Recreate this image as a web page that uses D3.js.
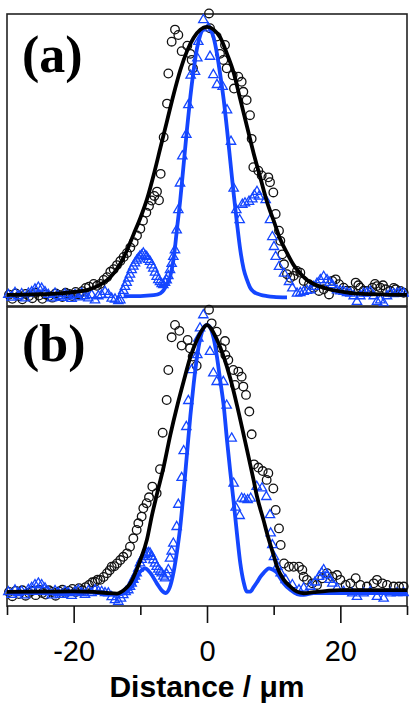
<!DOCTYPE html>
<html>
<head>
<meta charset="utf-8">
<script src="https://cdn.jsdelivr.net/npm/d3@7"></script>
<style>
body { margin: 0; background: #fff; }
</style>
</head>
<body>
<svg id="canvas" width="409" height="712"></svg>
<script>
// Ticks
var majorTicks = [-20, 0, 20];
var tickLabels = ["-20", "0", "20"];
var minorTicks = [-30, -10, 10, 30];
var panelLabels = ["(a)", "(b)"];
var axisTitle = "Distance / \u03bcm";

// Panel (a) fits, [distance, intensity]
var blackFitA = [[-30,0.004],[-26,0.006],[-22,0.01],[-20,0.015],[-18,0.022],[-16,0.042],[-14.5,0.07],[-13,0.12],[-12,0.17],[-11,0.23],[-10,0.29],[-9,0.36],[-8,0.45],[-7,0.55],[-6,0.65],[-5,0.75],[-4,0.84],[-3,0.91],[-2,0.96],[-1,0.99],[0,1.0],[1,0.99],[2,0.96],[3,0.9],[4,0.83],[5,0.73],[6,0.63],[7,0.53],[8,0.44],[9,0.35],[10,0.28],[11,0.21],[12,0.16],[13,0.115],[14,0.084],[15,0.06],[16,0.045],[17,0.035],[18,0.027],[20,0.017],[22,0.01],[26,0.006],[30,0.004]];
var blueFitA = [[-12.5,0.0],[-10,0.0],[-8,0.003],[-7,0.01],[-6.5,0.022],[-6,0.045],[-5.5,0.075],[-5,0.14],[-4.5,0.25],[-4,0.36],[-3.5,0.49],[-3,0.62],[-2.5,0.74],[-2,0.84],[-1.5,0.92],[-1,0.97],[-0.5,0.995],[0,1.0],[0.5,0.99],[1,0.96],[1.5,0.9],[2,0.82],[2.5,0.73],[3,0.62],[3.5,0.5],[4,0.38],[4.5,0.27],[5,0.17],[5.5,0.1],[6,0.06],[6.5,0.03],[7,0.016],[8,0.005],[9,0.0],[10,-0.003],[12,-0.005]];

// Panel (a) measured points
var circA = [[-29.7,0.005],[-29.2,-0.01],[-28.7,0.01],[-28.2,0.0],[-27.7,-0.012],[-27.2,0.008],[-26.7,0.0],[-26.2,-0.008],[-25.7,0.012],[-25.2,0.002],[-24.7,-0.01],[-24.2,0.006],[-23.7,0.0],[-23.2,-0.006],[-22.7,0.01],[-22.2,0.004],[-21.7,-0.004],[-21.2,0.012],[-20.7,0.008],[-20.2,0.0],[-19.7,0.015],[-19.2,0.006],[-18.7,0.018],[-18.2,0.03],[-17.7,0.035],[-17.0,0.045],[-16.5,0.038],[-16.0,0.045],[-15.5,0.06],[-15.0,0.07],[-14.5,0.09],[-14.0,0.1],[-13.5,0.115],[-13.0,0.13],[-12.5,0.145],[-12.0,0.16],[-11.5,0.18],[-11.0,0.2],[-10.5,0.225],[-10.0,0.25],[-9.6,0.28],[-9.1,0.31],[-8.7,0.335],[-8.3,0.355],[-7.9,0.372],[-7.5,0.388],[-7.2,0.356],[-6.95,0.454],[-6.5,0.59],[-6.0,0.715],[-5.8,0.827],[-5.3,0.945],[-4.8,0.99],[-4.3,0.97],[-3.8,0.91],[-2.95,0.93],[-2.5,0.9],[-2.3,0.877],[-2.1,0.846],[0.3,1.05],[0.45,0.995],[1.45,0.964],[1.95,0.9],[2.45,0.877],[2.7,0.933],[2.95,0.846],[3.85,0.82],[4.05,0.771],[4.7,0.815],[5.2,0.796],[5.45,0.759],[5.95,0.728],[6.45,0.672],[6.7,0.584],[6.95,0.479],[7.7,0.466],[8.2,0.448],[9.2,0.441],[9.45,0.423],[9.95,0.385],[10.3,0.305],[10.8,0.243],[11.0,0.205],[11.3,0.155],[11.55,0.118],[12.0,0.081],[12.5,0.068],[13.0,0.075],[13.5,0.093],[14.0,0.087],[14.5,0.056],[15.3,0.044],[16.0,0.031],[16.8,0.019],[17.5,0.025],[18.3,0.006],[18.8,0.056],[19.3,0.062],[19.8,0.044],[20.5,0.031],[21.0,0.02],[21.5,0.019],[22.3,0.05],[22.7,0.04],[23.0,0.031],[23.5,0.02],[24.0,0.019],[24.8,0.031],[25.2,0.045],[25.5,0.037],[26.0,0.031],[26.4,0.04],[26.8,0.025],[27.5,0.019],[28.0,0.03],[28.3,0.025],[29.0,0.019],[29.5,0.012]];
var triA = [[-29.8,0.005],[-29.3,-0.005],[-28.8,0.012],[-28.3,0.0],[-27.8,0.008],[-27.3,-0.008],[-26.8,0.01],[-26.3,0.015],[-25.8,0.025],[-25.3,0.032],[-24.8,0.028],[-24.3,0.015],[-23.8,0.005],[-23.3,-0.008],[-22.8,0.01],[-22.3,0.0],[-21.8,-0.006],[-21.3,0.008],[-20.8,0.0],[-20.3,-0.01],[-19.8,0.005],[-19.3,-0.004],[-18.8,0.01],[-18.3,0.0],[-17.8,-0.008],[-17.3,0.004],[-16.8,-0.015],[-16.3,0.0],[-15.8,0.004],[-15.3,0.016],[-14.8,0.005],[-14.3,-0.009],[-13.8,-0.012],[-13.3,-0.018],[-13.0,-0.015],[-12.8,0.004],[-12.55,0.02],[-12.3,0.035],[-12.05,0.05],[-11.8,0.066],[-11.55,0.08],[-11.3,0.097],[-11.05,0.11],[-10.8,0.122],[-10.55,0.132],[-10.3,0.14],[-10.05,0.148],[-9.8,0.152],[-9.55,0.159],[-9.3,0.15],[-9.05,0.146],[-8.8,0.135],[-8.55,0.128],[-8.3,0.115],[-8.05,0.103],[-7.8,0.088],[-7.55,0.072],[-7.3,0.06],[-7.05,0.053],[-6.8,0.045],[-6.55,0.041],[-6.3,0.05],[-6.05,0.059],[-5.8,0.075],[-5.55,0.097],[-5.3,0.12],[-5.05,0.146],[-4.8,0.171],[-4.55,0.245],[-4.3,0.32],[-4.05,0.419],[-3.7,0.52],[-3.1,0.6],[-2.8,0.71],[-2.45,0.82],[-1.8,0.834],[-1.45,0.884],[-1.3,0.945],[-0.55,1.026],[0.2,0.995],[0.45,0.89],[0.95,0.822],[1.5,0.785],[2.35,0.778],[3.0,0.691],[3.6,0.574],[4.0,0.4],[4.4,0.32],[4.9,0.283],[5.3,0.34],[5.7,0.345],[6.3,0.351],[6.8,0.36],[7.1,0.375],[7.5,0.388],[7.8,0.37],[8.8,0.357],[9.45,0.283],[9.8,0.22],[10.05,0.183],[10.3,0.146],[10.8,0.109],[11.55,0.084],[12.3,0.053],[12.8,0.029],[13.5,0.01],[14.0,0.012],[14.5,0.016],[15.0,0.02],[15.5,0.022],[16.0,0.035],[16.5,0.047],[17.0,0.06],[17.5,0.072],[18.0,0.06],[18.4,0.05],[18.8,0.041],[19.5,0.022],[20.0,0.018],[20.5,0.016],[21.0,0.012],[21.5,0.01],[22.0,0.0],[22.5,-0.021],[23.0,0.0],[23.5,0.01],[24.0,0.012],[24.5,0.016],[25.0,0.0],[25.5,-0.021],[26.0,-0.015],[26.5,-0.027],[27.0,0.0],[27.5,0.01],[28.0,0.008],[28.5,0.01],[29.0,0.012],[29.5,0.01]];

// Panel (b) fits
var blackFitB = [[-30,0.004],[-25,0.005],[-20,0.006],[-17,0.004],[-15,0.0],[-13.5,-0.002],[-12.5,0.01],[-11.5,0.036],[-10.5,0.09],[-10,0.123],[-9,0.2],[-8.3,0.285],[-7.5,0.37],[-6.5,0.471],[-5.5,0.59],[-4.5,0.695],[-3.5,0.79],[-2.5,0.88],[-1.5,0.945],[-0.5,0.99],[0,1.0],[0.5,0.99],[1.5,0.945],[2.5,0.882],[3.5,0.8],[4.5,0.7],[5.5,0.59],[6,0.534],[7,0.42],[7.5,0.36],[8.5,0.27],[9,0.223],[10,0.14],[10.5,0.098],[11.5,0.05],[12.5,0.024],[13.5,0.005],[14.5,-0.001],[16,0.003],[18,0.008],[20,0.011],[25,0.011],[30,0.011]];
var blueFitB = [[-30,0.0],[-20,0.0],[-16,0.003],[-14,-0.006],[-13,-0.005],[-12,0.005],[-11,0.036],[-10,0.08],[-9.3,0.092],[-8.5,0.075],[-7.5,0.035],[-6.8,0.01],[-6.2,0.0],[-5.6,0.02],[-5,0.08],[-4.5,0.155],[-4,0.25],[-3.5,0.38],[-3,0.52],[-2.5,0.66],[-2,0.78],[-1.5,0.88],[-1,0.95],[-0.5,0.99],[0,1.0],[0.5,0.99],[1,0.95],[1.5,0.88],[2,0.79],[2.5,0.7],[3,0.57],[3.5,0.45],[4,0.34],[4.5,0.22],[5,0.11],[5.5,0.04],[6,0.005],[6.5,0.005],[7,0.022],[7.5,0.04],[8,0.06],[8.5,0.075],[9.3,0.092],[10,0.085],[10.5,0.075],[11,0.055],[11.5,0.036],[12.5,0.012],[13.5,-0.004],[14.5,-0.007],[16,0.0],[20,0.0],[30,0.0]];

// Panel (b) measured points
var circB = [[-29.7,0.004],[-29.2,-0.012],[-28.7,0.008],[-28.2,-0.004],[-27.7,0.01],[-27.2,-0.01],[-26.7,0.0],[-26.2,0.008],[-25.7,-0.008],[-25.2,0.012],[-24.7,0.0],[-24.2,-0.006],[-23.7,0.01],[-23.2,0.004],[-22.7,-0.01],[-22.2,0.006],[-21.7,0.012],[-21.2,0.0],[-20.7,0.008],[-20.2,0.015],[-19.7,0.004],[-19.2,0.018],[-18.7,0.01],[-18.2,0.022],[-17.7,0.03],[-17.2,0.04],[-16.8,0.042],[-16.4,0.05],[-16.0,0.049],[-15.5,0.06],[-15.0,0.074],[-14.6,0.085],[-14.3,0.098],[-13.9,0.1],[-13.5,0.11],[-13.0,0.123],[-12.55,0.135],[-12.0,0.148],[-11.55,0.173],[-11.05,0.204],[-10.55,0.235],[-10.3,0.26],[-9.8,0.285],[-9.55,0.316],[-9.05,0.335],[-8.7,0.357],[-8.2,0.397],[-7.55,0.372],[-7.05,0.462],[-6.65,0.598],[-6.05,0.72],[-5.8,0.832],[-5.3,0.954],[-4.8,1.0],[-4.15,0.978],[-3.8,0.923],[-2.9,0.944],[-2.55,0.913],[-2.15,0.882],[-1.55,0.848],[0.3,1.057],[0.7,1.006],[1.45,0.975],[2.2,0.913],[2.7,0.94],[2.75,0.888],[3.2,0.869],[3.95,0.832],[4.2,0.776],[4.7,0.826],[5.2,0.807],[5.45,0.77],[5.85,0.739],[6.35,0.677],[6.7,0.592],[7.05,0.48],[7.7,0.468],[8.35,0.455],[8.95,0.422],[9.2,0.447],[9.95,0.39],[10.3,0.31],[10.8,0.241],[11.05,0.179],[11.55,0.11],[12.3,0.098],[13.0,0.098],[13.8,0.098],[14.3,0.086],[14.5,0.061],[15.0,0.049],[15.8,0.036],[16.5,0.03],[17.3,0.055],[18.0,0.074],[18.8,0.061],[19.5,0.067],[20.0,0.049],[20.8,0.03],[21.5,0.036],[22.3,0.055],[23.0,0.03],[24.0,0.024],[25.0,0.036],[25.5,0.049],[26.3,0.036],[27.0,0.03],[28.0,0.024],[28.8,0.024],[29.5,0.024]];
var triB = [[-29.8,0.004],[-29.3,-0.006],[-28.8,0.01],[-28.3,0.0],[-27.8,0.006],[-27.3,-0.008],[-26.8,0.012],[-26.3,0.02],[-25.8,0.03],[-25.3,0.036],[-24.8,0.03],[-24.3,0.018],[-23.8,0.004],[-23.3,-0.008],[-22.8,0.008],[-22.3,0.0],[-21.8,-0.006],[-21.3,0.006],[-20.8,0.0],[-20.3,-0.01],[-19.8,0.004],[-19.3,0.01],[-18.8,0.0],[-18.3,-0.006],[-17.8,0.008],[-17.3,0.0],[-16.8,0.011],[-16.3,0.006],[-15.8,0.005],[-15.3,0.0],[-14.8,-0.001],[-14.3,-0.015],[-13.8,-0.026],[-13.3,-0.032],[-12.9,-0.02],[-12.55,-0.007],[-12.2,0.004],[-11.8,0.011],[-11.55,0.024],[-11.3,0.036],[-11.05,0.05],[-10.8,0.062],[-10.55,0.074],[-10.3,0.092],[-10.05,0.111],[-9.8,0.124],[-9.55,0.135],[-9.3,0.142],[-9.05,0.148],[-8.8,0.15],[-8.55,0.148],[-8.3,0.136],[-8.05,0.123],[-7.8,0.11],[-7.55,0.098],[-7.3,0.088],[-7.05,0.08],[-6.8,0.074],[-6.55,0.062],[-6.3,0.055],[-6.05,0.07],[-5.8,0.086],[-5.55,0.129],[-5.3,0.155],[-5.05,0.185],[-4.55,0.247],[-4.3,0.33],[-3.8,0.43],[-3.5,0.53],[-3.1,0.62],[-2.8,0.717],[-2.3,0.832],[-1.45,0.888],[-1.3,0.95],[-1.05,0.988],[-0.55,1.037],[0.45,0.9],[0.95,0.82],[1.45,0.788],[2.45,0.788],[2.95,0.7],[3.7,0.577],[4.0,0.409],[4.3,0.319],[4.9,0.288],[5.2,0.353],[5.6,0.35],[6.1,0.347],[6.55,0.353],[7.45,0.397],[8.25,0.391],[8.9,0.359],[9.45,0.291],[9.55,0.223],[9.8,0.179],[10.05,0.135],[10.55,0.098],[11.05,0.074],[11.8,0.049],[12.8,0.03],[13.8,0.011],[14.5,0.018],[15.5,0.024],[16.2,0.04],[16.8,0.061],[17.2,0.075],[17.5,0.086],[18.0,0.067],[18.4,0.05],[18.8,0.036],[19.5,0.018],[20.5,0.005],[21.8,-0.001],[22.5,-0.014],[23.5,-0.001],[24.5,0.005],[25.5,-0.014],[26.5,-0.02],[27.5,-0.001],[28.5,0.0],[29.5,0.0]];

var blue = "#1446ff";

var svg = d3.select("#canvas");

var left = 7, right = 407;
var x = d3.scaleLinear().domain([-30, 30]).range([left, right]);

var panels = [
    {label: panelLabels[0], top: 14, bottom: 306, yDomain: [-0.037, 1.048], labelY: 72,
     circles: circA, triangles: triA, blackFit: blackFitA, blueFit: blueFitA},
    {label: panelLabels[1], top: 307, bottom: 606, yDomain: [-0.0485, 1.067], labelY: 361,
     circles: circB, triangles: triB, blackFit: blackFitB, blueFit: blueFitB}
];

panels.forEach(function(p){
    var y = d3.scaleLinear().domain(p.yDomain).range([p.bottom, p.top]);
    var g = svg.append("g");

    // Frame
    g.append("rect")
        .attr("x", left)
        .attr("y", p.top)
        .attr("width", right - left)
        .attr("height", p.bottom - p.top)
        .attr("fill", "none")
        .attr("stroke", "#222")
        .attr("stroke-width", 1.6);

    // Open circles
    g.selectAll("circle")
        .data(p.circles)
        .enter().append("circle")
        .attr("cx", function(d){ return x(d[0]); })
        .attr("cy", function(d){ return y(d[1]); })
        .attr("r", 4.3)
        .attr("fill", "none")
        .attr("stroke", "#111")
        .attr("stroke-width", 1.3);

    // Open triangles
    g.selectAll("path.tri")
        .data(p.triangles)
        .enter().append("path")
        .attr("class", "tri")
        .attr("d", d3.symbol(d3.symbolTriangle, 38))
        .attr("transform", function(d){ return "translate(" + x(d[0]) + "," + y(d[1]) + ")"; })
        .attr("fill", "none")
        .attr("stroke", blue)
        .attr("stroke-width", 1.3);

    var line = d3.line()
        .x(function(d){ return x(d[0]); })
        .y(function(d){ return y(d[1]); })
        .curve(d3.curveMonotoneX);

    g.append("path")
        .datum(p.blueFit)
        .attr("d", line)
        .attr("fill", "none")
        .attr("stroke", blue)
        .attr("stroke-width", 3.8);

    g.append("path")
        .datum(p.blackFit)
        .attr("d", line)
        .attr("fill", "none")
        .attr("stroke", "#000")
        .attr("stroke-width", 3.8);

    // Panel label
    g.append("text")
        .attr("x", 22)
        .attr("y", p.labelY)
        .attr("font-family", "'Liberation Serif', 'Times New Roman', serif")
        .attr("font-weight", "bold")
        .attr("font-size", 52)
        .attr("fill", "#000")
        .text(p.label);
});

// Bottom axis
var axisY = panels[1].bottom;
var xAxisCall = d3.axisBottom(x)
    .tickValues(majorTicks)
    .tickSize(17)
    .tickPadding(17)
    .tickFormat(function(d, i){ return tickLabels[i]; });
var xAxis = svg.append("g")
    .attr("transform", "translate(0," + axisY + ")")
    .call(xAxisCall);
var minorAxis = svg.append("g")
    .attr("transform", "translate(0," + axisY + ")")
    .call(d3.axisBottom(x).tickValues(minorTicks).tickSize(9).tickFormat(""));

svg.selectAll(".domain").remove();
svg.selectAll(".tick line")
    .attr("stroke", "#111")
    .attr("stroke-width", 1.6);
xAxis.selectAll("text")
    .attr("font-family", "'Liberation Sans', Arial, sans-serif")
    .attr("font-size", 29)
    .attr("fill", "#000");

// Axis title
svg.append("text")
    .attr("x", 207)
    .attr("y", 697)
    .attr("text-anchor", "middle")
    .attr("font-family", "'Liberation Sans', Arial, sans-serif")
    .attr("font-weight", "bold")
    .attr("font-size", 30)
    .attr("fill", "#000")
    .text(axisTitle);
</script>
</body>
</html>
